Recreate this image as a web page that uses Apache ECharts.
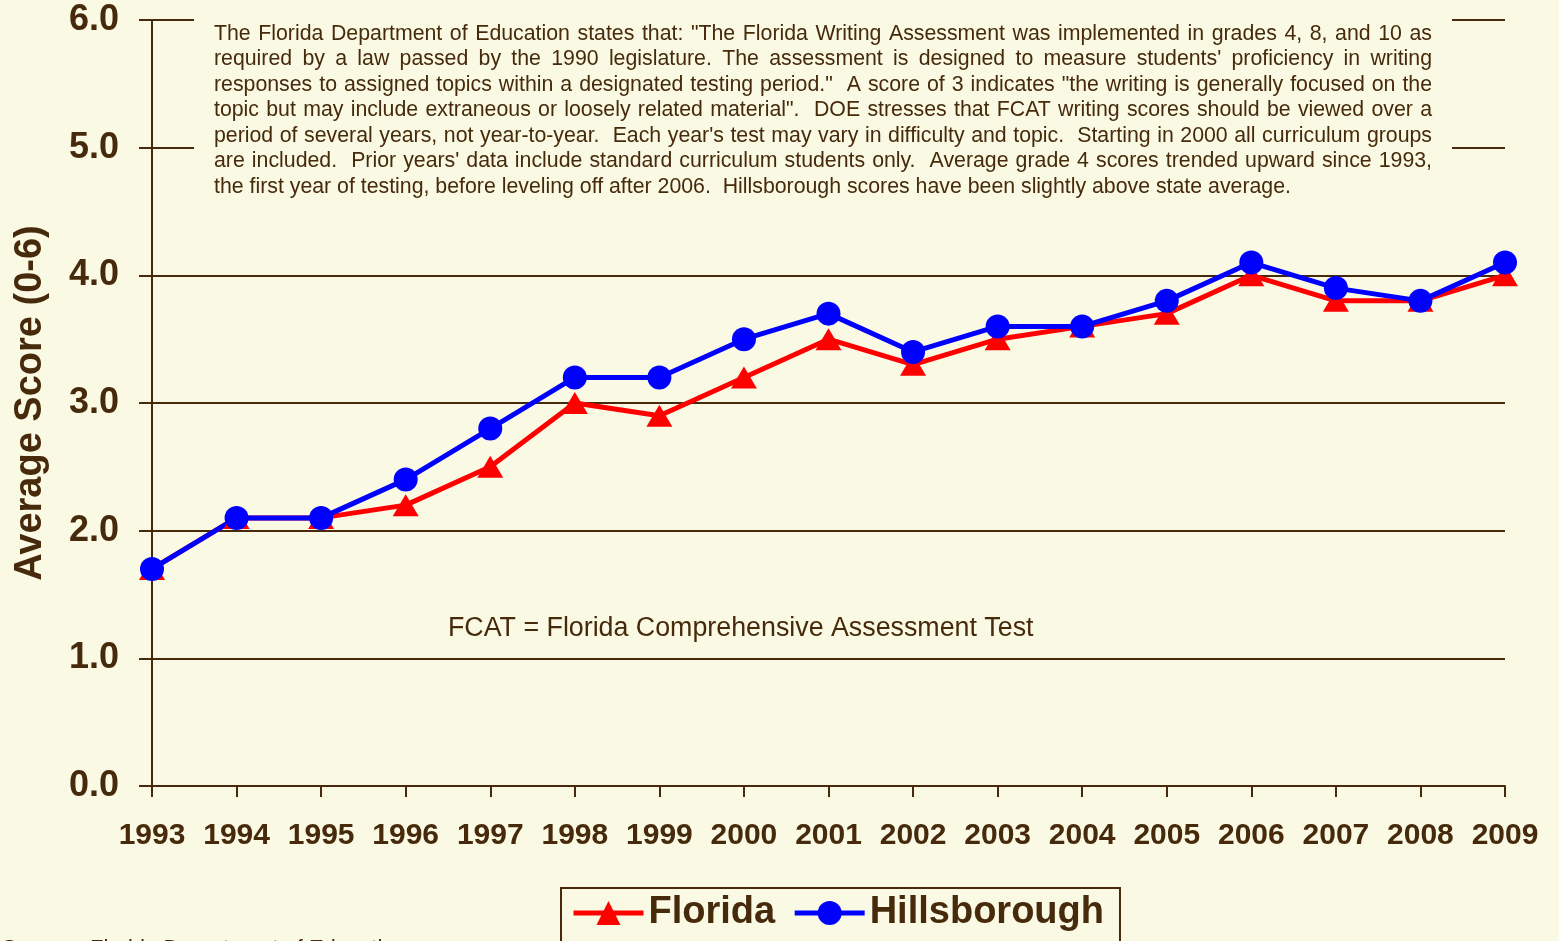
<!DOCTYPE html>
<html>
<head>
<meta charset="utf-8">
<script src="https://cdn.jsdelivr.net/npm/echarts@6/dist/echarts.min.js"></script>
<style>
  html, body { margin: 0; padding: 0; background: #FAFAE4; }
  #demo { width: 1559px; height: 941px; }
</style>
</head>
<body>
<div id="demo"></div>
<script>
var years = ['1993','1994','1995','1996','1997','1998','1999','2000','2001','2002','2003','2004','2005','2006','2007','2008','2009'];
var florida = [1.7, 2.1, 2.1, 2.2, 2.5, 3.0, 2.9, 3.2, 3.5, 3.3, 3.5, 3.6, 3.7, 4.0, 3.8, 3.8, 4.0];
var hillsborough = [1.7, 2.1, 2.1, 2.4, 2.8, 3.2, 3.2, 3.5, 3.7, 3.4, 3.6, 3.6, 3.8, 4.1, 3.9, 3.8, 4.1];

var noteLines = [
    'The Florida Department of Education states that: "The Florida Writing Assessment was implemented in grades 4, 8, and 10 as',
    'required by a law passed by the 1990 legislature. The assessment is designed to measure students\' proficiency in writing',
    'responses to assigned topics within a designated testing period."  A score of 3 indicates "the writing is generally focused on the',
    'topic but may include extraneous or loosely related material".  DOE stresses that FCAT writing scores should be viewed over a',
    'period of several years, not year-to-year.  Each year\'s test may vary in difficulty and topic.  Starting in 2000 all curriculum groups',
    'are included.  Prior years\' data include standard curriculum students only.  Average grade 4 scores trended upward since 1993,',
    'the first year of testing, before leveling off after 2006.  Hillsborough scores have been slightly above state average.'
];

var brown = '#462A0B';
var bg = '#FAFAE4';
var noteFont = '21.3px "Liberation Sans", Arial, sans-serif';

// justified note text, one graphic text per word
function noteGraphics() {
    var ctx = document.createElement('canvas').getContext('2d');
    ctx.font = noteFont;
    var left = 214, right = 1432, top = 34, step = 25.5;
    var out = [];
    for (var i = 0; i < noteLines.length; i++) {
        var words = noteLines[i].split(' ');
        var total = 0;
        for (var j = 0; j < words.length; j++) total += ctx.measureText(words[j]).width;
        var gap = ctx.measureText(' ').width;
        if (i < noteLines.length - 1) gap = (right - left - total) / (words.length - 1);
        var x = left;
        for (var j = 0; j < words.length; j++) {
            if (words[j] !== '') {
                out.push({
                    type: 'text', x: x, y: top + i * step, z: 6,
                    style: { text: words[j], font: noteFont, fill: brown, textVerticalAlign: 'middle' }
                });
            }
            x += ctx.measureText(words[j]).width + gap;
        }
    }
    return out;
}

var mychar = echarts.init(document.getElementById('demo'));
var graphics = [
    { type: 'rect', z: 5, shape: { x: 194, y: 8, width: 1258, height: 196 }, style: { fill: bg } },
    {
        type: 'text', x: 448, y: 629, z: 6,
        style: { text: 'FCAT = Florida Comprehensive Assessment Test', font: '26.8px "Liberation Sans", Arial, sans-serif', fill: brown, textVerticalAlign: 'middle' }
    },
    {
        type: 'text', x: 2, y: 949, z: 6,
        style: { text: 'Source:  Florida Department of Education', font: '22px "Liberation Sans", Arial, sans-serif', fill: brown, textVerticalAlign: 'middle' }
    }
].concat(noteGraphics());

mychar.setOption({
    backgroundColor: bg,
    animation: false,
    textStyle: { fontFamily: '"Liberation Sans", Arial, sans-serif', color: brown },
    grid: { left: 152, right: 54, top: 20, bottom: 155 },
    legend: {
        left: 561, top: 888,
        padding: [6, 16, 30, 10],
        borderColor: brown, borderWidth: 2,
        itemGap: 17, itemWidth: 70, itemHeight: 30,
        lineStyle: { width: 5 },
        textStyle: { fontSize: 38, fontWeight: 'bold', color: brown },
        data: ['Florida', 'Hillsborough']
    },
    xAxis: {
        type: 'category',
        data: years,
        boundaryGap: false,
        axisLine: { lineStyle: { color: brown, width: 2 } },
        axisTick: { alignWithLabel: true, length: 11, lineStyle: { color: brown, width: 2 } },
        axisLabel: { interval: 0, hideOverlap: false, margin: 35, fontSize: 30, fontWeight: 'bold', color: brown }
    },
    yAxis: {
        type: 'value',
        min: 0, max: 6, interval: 1,
        name: 'Average Score (0-6)',
        nameLocation: 'middle',
        nameGap: 102,
        nameTextStyle: { fontSize: 38, fontWeight: 'bold', color: brown },
        axisLine: { show: true, lineStyle: { color: brown, width: 2 } },
        axisTick: { show: true, length: 13, lineStyle: { color: brown, width: 2 } },
        axisLabel: {
            margin: 33, fontSize: 36, fontWeight: 'bold', color: brown,
            padding: [4, 0, 0, 0],
            formatter: function (v) { return v.toFixed(1); }
        },
        splitLine: { lineStyle: { color: brown, width: 2 } }
    },
    series: [
        {
            name: 'Florida',
            type: 'line',
            data: florida,
            symbol: 'triangle',
            symbolSize: [26, 22],
            itemStyle: { color: '#FF0000' },
            lineStyle: { color: '#FF0000', width: 5 }
        },
        {
            name: 'Hillsborough',
            type: 'line',
            data: hillsborough,
            symbol: 'circle',
            symbolSize: 24,
            itemStyle: { color: '#0000FF' },
            lineStyle: { color: '#0000FF', width: 5 }
        }
    ],
    graphic: graphics
});
</script>
</body>
</html>
